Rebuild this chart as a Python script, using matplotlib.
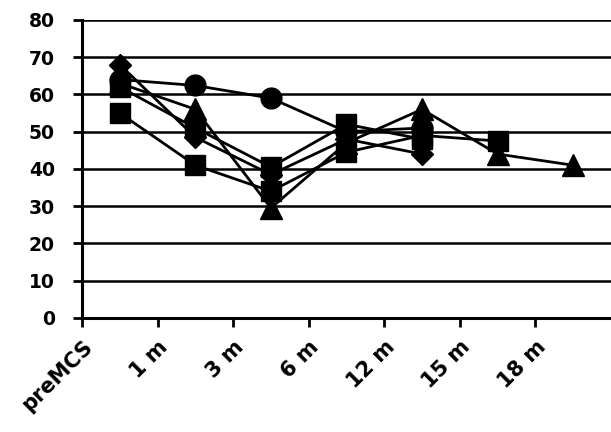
import matplotlib
matplotlib.use("Agg")
import matplotlib.pyplot as plt
import matplotlib.transforms as mtransforms
import numpy as np

plt.rcParams['font.family'] = ['DejaVu Sans']

# Time points
categories = ["preMCS", "1 m", "3 m", "6 m", "12 m", "15 m", "18 m"]

# Individual follow-up scores
circle_vals = [64, 62.4, 59, 50, 51]
triangle_vals = [63, 56, 29.5, 47, 56, 44, 41]
diamond_vals = [68, 48.5, 38.5, 48, 44]
square_a_vals = [55, 41, 34, 44.5, 49, 47.5]
square_b_vals = [62, 51, 40.5, 52, 48]

yticks = [0, 10, 20, 30, 40, 50, 60, 70, 80]

series = [
    (square_a_vals, "s", 14.5),
    (square_b_vals, "s", 14.5),
    (diamond_vals, "D", 11),
    (circle_vals, "o", 15),
    (triangle_vals, "^", 15.5),
]

fig = plt.figure(figsize=(6.11, 4.32), dpi=100)
ax = fig.add_axes([0.1342, 0.2639, 0.8658, 0.690])

for vals, mk, ms in series:
    x = np.arange(len(vals)) + 0.5
    ax.plot(x, vals, color="black", lw=2.0, marker=mk, markersize=ms,
            markerfacecolor="black", markeredgecolor="black", zorder=3,
            clip_on=False)

ax.set_xlim(0, 7)
ax.set_ylim(0, 80)
ax.set_yticks(yticks)
ax.set_yticklabels([str(v) for v in yticks], fontsize=13.5, fontweight="bold")
ax.set_xticks(np.arange(len(categories)))
ax.set_xticklabels(categories, rotation=45, ha="right", va="top",
                   rotation_mode="anchor", fontsize=15, fontweight="bold")

shift = mtransforms.ScaledTranslation(-0.12, 0, fig.dpi_scale_trans)
for lbl in ax.get_xticklabels():
    lbl.set_transform(lbl.get_transform() + shift)

for y in yticks[1:]:
    ax.axhline(y, color="black", lw=1.8, zorder=1)

for side in ("top", "right"):
    ax.spines[side].set_visible(False)
for side in ("left", "bottom"):
    ax.spines[side].set_linewidth(2.2)
    ax.spines[side].set_color("black")

ax.tick_params(axis="both", direction="out", length=6.5, width=2.0,
               color="black")
ax.tick_params(axis="y", pad=13)
ax.tick_params(axis="x", pad=7)

fig.savefig("out.png", dpi=100, facecolor="white")
